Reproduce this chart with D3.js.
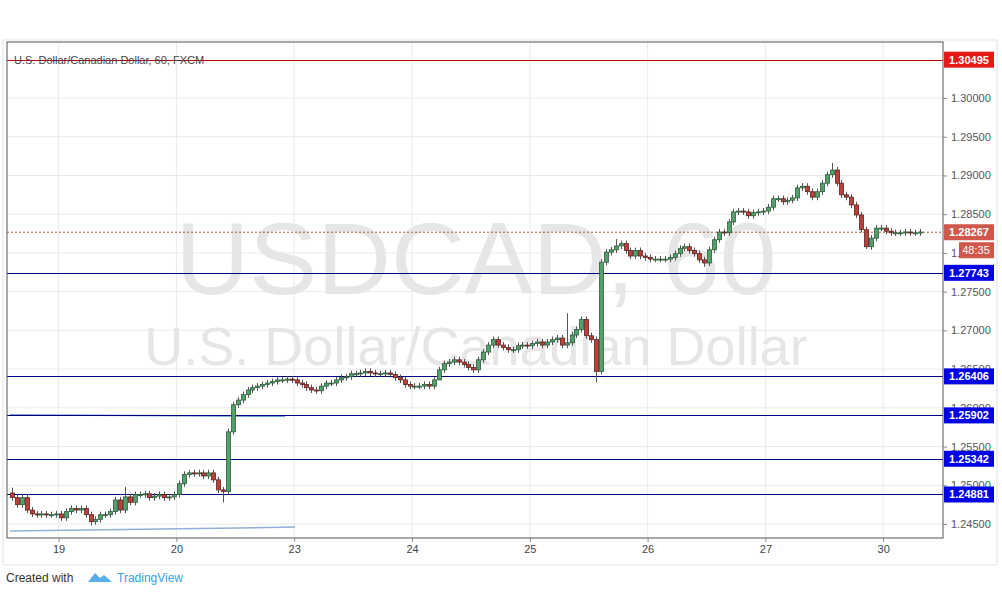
<!DOCTYPE html>
<html><head><meta charset="utf-8">
<script src="https://cdn.jsdelivr.net/npm/d3@7"></script>
<style>body{margin:0;background:#fff;font-family:Arial,"Liberation Sans",sans-serif}</style>
</head><body><div id="chart"></div>
<script>
// hourly closes (open = previous close)
var closes = [1.2484,1.2475,1.2484,1.2468,1.2463,1.2462,1.2463,1.2462,1.2462,1.2463,
 1.2458,1.2466,1.2470,1.2468,1.2470,1.2462,1.2453,1.2456,1.2462,1.2462,1.2466,1.2481,1.2468,1.2485,1.2478,1.2488,1.2488,1.2489,1.2484,1.2486,1.2488,1.2484,1.2485,1.2488,
 1.2502,1.2514,1.2516,1.2515,1.2516,1.2512,1.2516,1.2507,1.2494,1.2492,1.2569,1.2604,1.2610,1.2617,1.2623,1.2626,1.2628,1.2630,1.2632,1.2634,1.2636,1.2636,1.2637,1.2636,
 1.2632,1.2630,1.2626,1.2623,1.2622,1.2628,1.2632,1.2632,1.2636,1.2639,1.2640,1.2644,1.2644,1.2645,1.2647,1.2645,1.2644,1.2644,1.2645,1.2643,1.2639,1.2636,1.2630,1.2628,
 1.2628,1.2628,1.2630,1.2628,1.2636,1.2649,1.2657,1.2659,1.2662,1.2659,1.2656,1.2652,1.2649,1.2662,1.2672,1.2681,1.2688,1.2681,1.2678,1.2675,1.2675,1.2680,1.2681,1.2680,
 1.2683,1.2685,1.2681,1.2685,1.2688,1.2690,1.2681,1.2684,1.2694,1.2701,1.2714,1.2693,1.2688,1.2647,
 1.2788,1.2801,1.2804,1.2809,1.2812,1.2803,1.2796,1.2803,1.2796,1.2794,1.2792,1.2792,1.2792,1.2792,1.2794,1.2799,1.2806,1.2808,1.2803,1.2799,
 1.2791,1.2787,1.2804,1.2817,1.2827,1.2826,1.2840,1.2853,1.2854,1.2853,1.2848,1.2852,1.2853,1.2854,1.2859,1.2870,1.2870,1.2866,1.2868,1.2871,
 1.2884,1.2886,1.2879,1.2872,1.2879,1.2890,1.2901,1.2907,1.2890,1.2875,1.2872,1.2862,1.2849,1.2830,1.2808,1.2819,1.2832,1.2832,1.2828,1.2826,
 1.2826,1.2826,1.2827,1.2826,1.2826,1.2827];
var firstOpen = 1.2490;
// notable wicks [bar index, high, low]
var longWicks = [[0,1.2497,null],[16,null,1.2448],[23,1.2498,null],[43,null,1.2478],[87,null,1.2640],[113,1.2722,null],[119,null,1.2633],[123,1.2818,null],[141,null,1.2782],[167,1.2916,null],[174,null,1.2805]];
var dayLabels = ["19","20","23","24","25","26","27","30"];
var dayStart = [10,34,58,82,106,130,154,178];
var levels = [1.27743,1.26406,1.25902,1.25342,1.24881];
var topLevel = 1.30495;
var lastPrice = 1.28267;
var yTicks = d3.range(1.245,1.3001,0.005);

var W = 1002, H = 595;
var svg = d3.select("#chart").append("svg").attr("width",W).attr("height",H);
var L = 7, R = 943, T = 42, B = 538;

var x = d3.scaleLinear().domain([0,185]).range([12,920]);
var y = d3.scaleLinear().domain([1.245,1.300]).range([524,98]);

svg.append("rect").attr("x",3).attr("y",40).attr("width",994).attr("height",525).attr("fill","#fff").attr("stroke","#e0e3eb");

// grid
svg.selectAll(".hg").data(yTicks).enter().append("line")
  .attr("x1",L).attr("x2",R).attr("y1",d=>y(d)).attr("y2",d=>y(d)).attr("stroke","#e8eaee");
svg.selectAll(".vg").data(dayStart).enter().append("line")
  .attr("x1",d=>x(d-0.5)).attr("x2",d=>x(d-0.5)).attr("y1",T).attr("y2",B).attr("stroke","#e8eaee");

// watermark
svg.append("text").attr("x",476).attr("y",294).attr("text-anchor","middle").attr("font-size",102)
  .attr("fill","#e6e6e6").text("USDCAD, 60");
svg.append("text").attr("x",476).attr("y",365).attr("text-anchor","middle").attr("font-size",54)
  .attr("fill","#e6e6e6").text("U.S. Dollar/Canadian Dollar");

// trend lines
svg.append("line").attr("x1",10).attr("y1",y(1.2591)).attr("x2",285).attr("y2",y(1.2589)).attr("stroke","#6f9fd8").attr("stroke-width",1.5);
svg.append("line").attr("x1",10).attr("y1",y(1.2441)).attr("x2",295).attr("y2",y(1.2446)).attr("stroke","#8fb0d8").attr("stroke-width",1.5);

// horizontal levels
svg.selectAll(".lv").data(levels).enter().append("line")
  .attr("x1",L).attr("x2",R).attr("y1",d=>Math.round(y(d))+0.5).attr("y2",d=>Math.round(y(d))+0.5).attr("stroke","#000080");
svg.append("line").attr("x1",L).attr("x2",R).attr("y1",Math.round(y(topLevel))+0.5).attr("y2",Math.round(y(topLevel))+0.5).attr("stroke","#c00000");
svg.append("line").attr("x1",L).attr("x2",R).attr("y1",y(lastPrice)).attr("y2",y(lastPrice)).attr("stroke","#b5533f").attr("stroke-dasharray","2,2");

// candles
var opens = closes.map((c,i)=> i==0 ? firstOpen : closes[i-1]);
var extra = {};
longWicks.forEach(w=>extra[w[0]]=w);
var g = svg.append("g");
closes.forEach(function(c,i){
  var o = opens[i], up = c>=o;
  var hi = Math.max(o,c)+0.0004, lo = Math.min(o,c)-0.0004;
  if (extra[i]) { if (extra[i][1]) hi = extra[i][1]; if (extra[i][2]) lo = extra[i][2]; }
  var cx = Math.round(x(i))+0.5;
  g.append("line").attr("x1",cx).attr("x2",cx).attr("y1",y(hi)).attr("y2",y(lo)).attr("stroke","#555");
  var top = y(Math.max(o,c)), h = Math.max(1,y(Math.min(o,c))-top);
  g.append("rect").attr("x",cx-2).attr("y",top).attr("width",4).attr("height",h)
    .attr("fill",up?"#53a06c":"#b8413b").attr("stroke",up?"#2f5d3d":"#5e2320").attr("stroke-width",0.8);
});

// frame
svg.append("rect").attr("x",L).attr("y",T).attr("width",R-L).attr("height",B-T).attr("fill","none").attr("stroke","#555");

// price axis
var ya = svg.append("g").attr("transform","translate("+R+",0)")
  .call(d3.axisRight(y).tickValues(yTicks).tickFormat(d3.format(".5f")).tickSize(4));
ya.select(".domain").remove();
ya.selectAll("line").attr("stroke","#888");
ya.selectAll("text").attr("fill","#555").attr("font-size",11).attr("x",8);

// time axis
var xa = svg.append("g").attr("transform","translate(0,"+B+")")
  .call(d3.axisBottom(x).tickValues(dayStart.map(d=>d-0.5)).tickFormat((d,i)=>dayLabels[i]).tickSize(4));
xa.select(".domain").remove();
xa.selectAll("line").attr("stroke","#888");
xa.selectAll("text").attr("fill","#444").attr("font-size",11);

// price labels
function tag(v,col,txt){
  var yy = y(v);
  svg.append("rect").attr("x",944).attr("y",yy-8).attr("width",50).attr("height",16).attr("fill",col);
  svg.append("text").attr("x",969).attr("y",yy+4).attr("text-anchor","middle").attr("font-size",11).attr("font-weight","bold").attr("fill","#fff").text(txt);
}
levels.forEach(v=>tag(v,"#0000e6",v.toFixed(5)));
tag(topLevel,"#e61919",topLevel.toFixed(5));
tag(lastPrice,"#d0584a",lastPrice.toFixed(5));
svg.append("rect").attr("x",959).attr("y",y(lastPrice)+10).attr("width",35).attr("height",16).attr("fill","#d0584a");
svg.append("text").attr("x",976).attr("y",y(lastPrice)+22).attr("text-anchor","middle").attr("font-size",11).attr("fill","#fff").text("48:35");

svg.append("text").attr("x",14).attr("y",64).attr("font-size",11).attr("fill","#444").text("U.S. Dollar/Canadian Dollar, 60, FXCM");

// footer
svg.append("text").attr("x",6).attr("y",582).attr("font-size",12).attr("fill","#333").text("Created with");
svg.append("path").attr("d","M88,582 l7,-9 l5,5 l4,-3 l8,7 z").attr("fill","#5ab0e8");
svg.append("text").attr("x",117).attr("y",582).attr("font-size",12).attr("fill","#3ca0e0").text("TradingView");
</script></body></html>
